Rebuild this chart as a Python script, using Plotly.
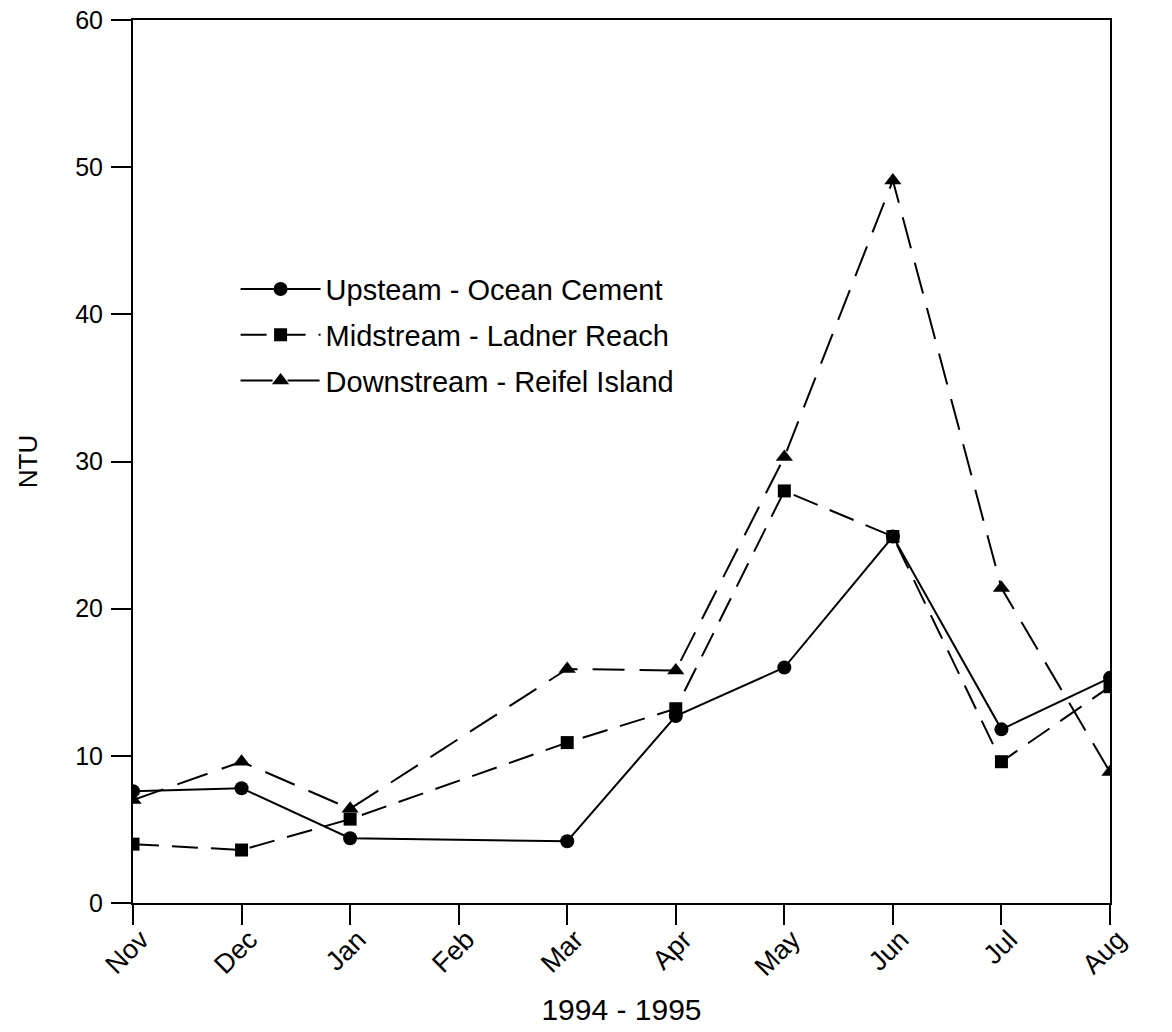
import plotly.graph_objects as go

months = ["Nov", "Dec", "Jan", "Feb", "Mar", "Apr", "May", "Jun", "Jul", "Aug"]
upstream = [7.6, 7.8, 4.4, None, 4.2, 12.7, 16.0, 24.9, 11.8, 15.3]
midstream = [4.0, 3.6, 5.7, None, 10.9, 13.2, 28.0, 24.9, 9.6, 14.7]
downstream = [7.0, 9.6, 6.4, None, 15.9, 15.8, 30.3, 49.1, 21.4, 8.9]

names = ["Upsteam - Ocean Cement", "Midstream - Ladner Reach", "Downstream - Reifel Island"]
y_ticks = [0, 10, 20, 30, 40, 50, 60]

FONT = "Liberation Sans, Arial, sans-serif"

fig = go.Figure()
fig.add_trace(go.Scatter(
    x=months, y=upstream, name=names[0], mode="lines+markers", connectgaps=True,
    line=dict(color="black", width=2, dash="solid"),
    marker=dict(symbol="circle", size=14, color="black"),
    legendgroup="a"))
fig.add_trace(go.Scatter(
    x=months, y=midstream, name=names[1], mode="lines+markers", connectgaps=True,
    line=dict(color="black", width=2, dash="26px,13px"),
    marker=dict(symbol="square", size=13, color="black"),
    legendgroup="b"))
fig.add_trace(go.Scatter(
    x=months, y=downstream, name=names[2], mode="lines+markers", connectgaps=True,
    line=dict(color="black", width=2, dash="32px,15px"),
    marker=dict(symbol="triangle-up", size=15, color="black"),
    legendgroup="c"))

fig.update_layout(
    width=1172, height=1032,
    margin=dict(l=133, r=62, t=20, b=129),
    paper_bgcolor="white", plot_bgcolor="white",
    font=dict(family=FONT, size=25, color="black"),
    showlegend=True,
    legend=dict(
        x=0.105, y=0.724, xanchor="left", yanchor="top",
        bgcolor="rgba(0,0,0,0)", font=dict(size=29, family=FONT),
        itemwidth=80, tracegroupgap=5, traceorder="grouped",
    ),
    xaxis=dict(
        type="category", categoryorder="array", categoryarray=months,
        range=[0, 9], showline=True, linecolor="black", linewidth=2, mirror=True,
        ticks="outside", ticklen=20, tickwidth=2, tickcolor="black",
        tickangle=-45, tickfont=dict(size=27, family=FONT),
        ticklabelstandoff=-12, ticklabelshift=8,
        showgrid=False, zeroline=False, automargin=False,
        title=dict(text="1994 - 1995", font=dict(size=30, family=FONT), standoff=18),
    ),
    yaxis=dict(
        range=[0, 60], tickvals=y_ticks, showline=True, linecolor="black", linewidth=2,
        mirror=True, ticks="outside", ticklen=20, tickwidth=2, tickcolor="black",
        ticklabelstandoff=3, automargin=False,
        tickfont=dict(size=25, family=FONT), showgrid=False, zeroline=False,
        title=dict(text="NTU", font=dict(size=26, family=FONT), standoff=30),
    ),
)

fig.write_html("out.html")
